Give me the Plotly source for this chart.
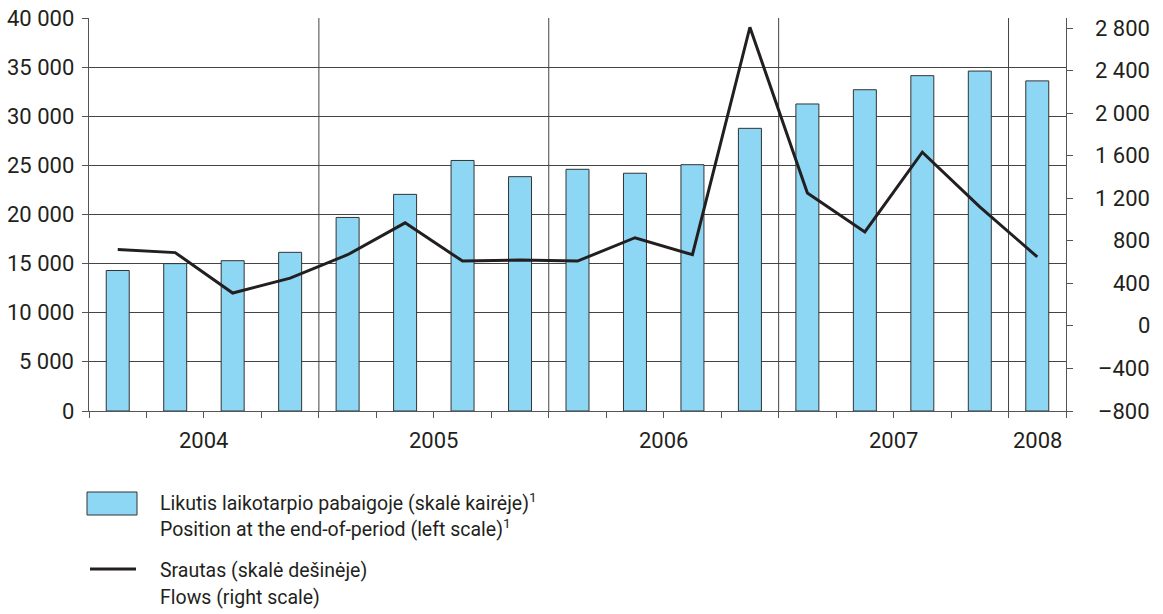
import plotly.graph_objects as go

quarters = ["2004 Q1", "2004 Q2", "2004 Q3", "2004 Q4",
            "2005 Q1", "2005 Q2", "2005 Q3", "2005 Q4",
            "2006 Q1", "2006 Q2", "2006 Q3", "2006 Q4",
            "2007 Q1", "2007 Q2", "2007 Q3", "2007 Q4",
            "2008 Q1"]
position = [14300, 15000, 15300, 16150, 19700, 22050, 25500, 23850,
            24600, 24200, 25070, 28770, 31250, 32700, 34130, 34600, 33600]
flows = [720, 690, 310, 450, 670, 970, 610, 620, 610, 830, 670, 2810,
         1250, 885, 1635, 1120, 650]
left_ticks = [0, 5000, 10000, 15000, 20000, 25000, 30000, 35000, 40000]
right_ticks = [-800, -400, 0, 400, 800, 1200, 1600, 2000, 2400, 2800]
legend_bar = ["Likutis laikotarpio pabaigoje (skalė kairėje)<sup>1</sup>",
              "Position at the end-of-period (left scale)<sup>1</sup>"]
legend_line = ["Srautas (skalė dešinėje)", "Flows (right scale)"]

FONT = "Roboto, Liberation Sans, sans-serif"
TXT = "#231f20"
TICK_SIZE = 22

n = len(quarters)
xs = list(range(n))
years = [q.split()[0] for q in quarters]

# year groups
year_order = []
for y in years:
    if y not in year_order:
        year_order.append(y)
year_center = {}
year_bounds = []
for y in year_order:
    idx = [i for i, v in enumerate(years) if v == y]
    year_center[y] = (idx[0] + idx[-1]) / 2
    year_bounds.append(idx[-1] + 0.5)
year_bounds = year_bounds[:-1]

fig = go.Figure()
fig.add_trace(go.Bar(
    x=xs, y=position, width=0.4,
    marker=dict(color="#8dd7f5", line=dict(color="#333333", width=1)),
    yaxis="y", showlegend=False))
fig.add_trace(go.Scatter(
    x=xs, y=flows, mode="lines",
    line=dict(color="#231f20", width=3),
    yaxis="y2", showlegend=False))

# layout geometry (pixels)
L, R, T, B = 89, 97, 18, 203
W, H = 1163, 614
pw, ph = W - L - R, H - T - B


def px2paper(px, py):
    return (px - L) / pw, (H - B - py) / ph


ry_lo, ry_hi = -800, 2897

shapes = []
for xb in year_bounds:
    shapes.append(dict(type="line", xref="x", yref="paper", x0=xb, x1=xb, y0=0, y1=1,
                       line=dict(color="#444444", width=1), layer="below"))

annotations = []
for y in year_order:
    annotations.append(dict(x=year_center[y], y=(411 - 440) / ph, xref="x", yref="paper",
                            text=y, showarrow=False, xanchor="center", yanchor="middle",
                            font=dict(family=FONT, size=TICK_SIZE, color=TXT)))
for v in right_ticks:
    lab = ("–" + f"{abs(v):,}" if v < 0 else f"{v:,}").replace(",", " ")
    annotations.append(dict(x=(1152 - L) / pw, y=v, xref="paper", yref="y2",
                            text=lab, showarrow=False, xanchor="right", yanchor="middle",
                            font=dict(family=FONT, size=TICK_SIZE, color=TXT)))
for v in left_ticks:
    lab = f"{v:,}".replace(",", " ")
    annotations.append(dict(x=(76 - L) / pw, y=v, xref="paper", yref="y",
                            text=lab, showarrow=False, xanchor="right", yanchor="middle",
                            font=dict(family=FONT, size=TICK_SIZE, color=TXT)))

# legend (drawn manually)
x0, y0 = px2paper(87, 492)
x1, y1 = px2paper(137, 515)
shapes.append(dict(type="rect", xref="paper", yref="paper", x0=x0, x1=x1, y0=y0, y1=y1,
                   fillcolor="#8dd7f5", line=dict(color="#333333", width=1)))
lx0, ly = px2paper(90, 569)
lx1, _ = px2paper(136, 569)
shapes.append(dict(type="line", xref="paper", yref="paper", x0=lx0, x1=lx1, y0=ly, y1=ly,
                   line=dict(color="#231f20", width=3)))
for txt, py in zip(legend_bar + legend_line, [502, 528, 570, 597]):
    tx, ty = px2paper(158, py)
    annotations.append(dict(x=tx, y=ty, xref="paper", yref="paper", text=txt,
                            showarrow=False, xanchor="left", yanchor="middle",
                            font=dict(family=FONT, size=19.5, color=TXT)))

fig.update_layout(
    width=W, height=H, autosize=False,
    margin=dict(l=L, r=R, t=T, b=B, pad=0, autoexpand=False),
    paper_bgcolor="white", plot_bgcolor="white",
    font=dict(family=FONT, size=TICK_SIZE, color=TXT),
    xaxis=dict(range=[-0.5, n - 0.5], tickvals=[i - 0.5 for i in range(n + 1)],
               showticklabels=False, ticks="outside", ticklen=6, tickcolor="#555555",
               showgrid=False, zeroline=False, showline=True, linecolor="#555555",
               linewidth=1, automargin=False),
    yaxis=dict(range=[0, 40000], tickvals=left_ticks, showticklabels=False,
               ticks="outside", ticklen=6, tickcolor="#555555",
               showgrid=True, gridcolor="#444444", gridwidth=1,
               zeroline=False, showline=True, linecolor="#555555", linewidth=1,
               automargin=False),
    yaxis2=dict(range=[ry_lo, ry_hi], tickvals=right_ticks, overlaying="y", side="right",
                showticklabels=False, ticks="outside", ticklen=6, tickcolor="#555555",
                showgrid=False, zeroline=False, showline=True, linecolor="#555555",
                linewidth=1, automargin=False),
    shapes=shapes, annotations=annotations,
)

fig.write_html("out.html", config={"displayModeBar": False},
               post_script="document.body.style.margin='0';document.body.style.padding='0';")
